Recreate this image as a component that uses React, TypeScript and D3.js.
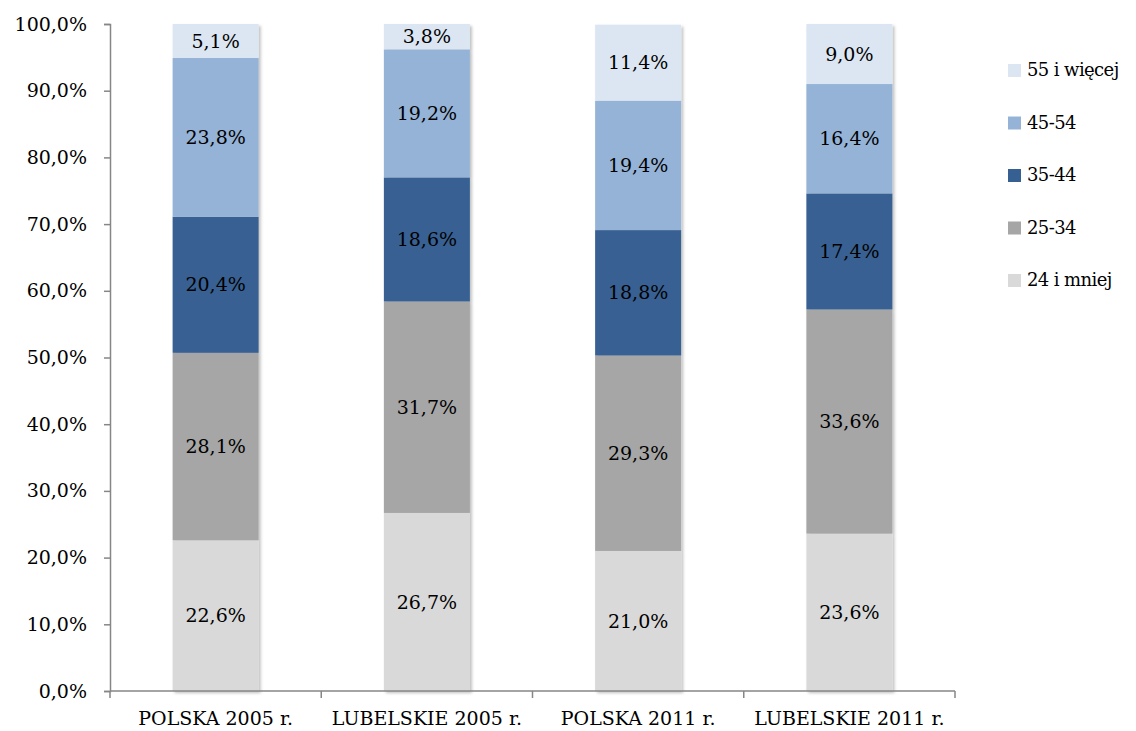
import React, { useEffect, useRef } from 'react';
import * as d3 from 'd3';

const categories = ['POLSKA 2005 r.', 'LUBELSKIE 2005 r.', 'POLSKA 2011 r.', 'LUBELSKIE 2011 r.'];
const seriesNames = ['24 i mniej', '25-34', '35-44', '45-54', '55 i więcej'];
const seriesColors = ['#d9d9d9', '#a6a6a6', '#376092', '#95b3d7', '#dce6f2'];
const age24 = [22.6, 26.7, 21.0, 23.6];
const age25 = [28.1, 31.7, 29.3, 33.6];
const age35 = [20.4, 18.6, 18.8, 17.4];
const age45 = [23.8, 19.2, 19.4, 16.4];
const age55 = [5.1, 3.8, 11.4, 9.0];
const yTicks = [0, 10, 20, 30, 40, 50, 60, 70, 80, 90, 100];

const FONT = '"DejaVu Serif", serif';

const App = () => {
  const ref = useRef<SVGSVGElement>(null);

  useEffect(() => {
    const svg = d3.select(ref.current);
    svg.selectAll('*').remove();

    const width = 1136;
    const height = 731;
    const left = 110, right = 955, top = 24, bottom = 691;

    svg.attr('width', width).attr('height', height);

    const defs = svg.append('defs');
    const f = defs.append('filter').attr('id', 'shadow')
      .attr('x', '-10%').attr('y', '-5%').attr('width', '130%').attr('height', '115%');
    f.append('feDropShadow').attr('dx', 2).attr('dy', 2).attr('stdDeviation', 1.5)
      .attr('flood-color', '#000').attr('flood-opacity', 0.25);

    const series = [age24, age25, age35, age45, age55];
    const table = categories.map((c, i) => {
      const row: any = { cat: c };
      seriesNames.forEach((s, j) => { row[s] = series[j][i]; });
      return row;
    });
    const stacked = d3.stack().keys(seriesNames)(table);

    const x = d3.scaleBand().domain(categories).range([left, right]).paddingInner(0).paddingOuter(0);
    const y = d3.scaleLinear().domain([0, 100]).range([bottom, top]);
    const barW = 86;

    const bars = svg.append('g').attr('filter', 'url(#shadow)');
    stacked.forEach((layer, j) => {
      bars.append('g').selectAll('rect')
        .data(layer)
        .enter()
        .append('rect')
        .attr('x', (d: any) => x(d.data.cat)! + x.bandwidth() / 2 - barW / 2)
        .attr('y', d => y(d[1]))
        .attr('width', barW)
        .attr('height', d => y(d[0]) - y(d[1]))
        .style('fill', seriesColors[j]);
    });

    const labels = svg.append('g');
    stacked.forEach((layer) => {
      labels.append('g').selectAll('text')
        .data(layer)
        .enter()
        .append('text')
        .attr('x', (d: any) => x(d.data.cat)! + x.bandwidth() / 2)
        .attr('y', d => (y(d[0]) + y(d[1])) / 2)
        .attr('dy', '0.35em')
        .attr('text-anchor', 'middle')
        .style('font-family', FONT)
        .style('font-size', '19px')
        .style('fill', '#000')
        .text(d => `${(d[1] - d[0]).toFixed(1).replace('.', ',')}%`);
    });

    // Y axis
    const yAxis = svg.append('g')
      .attr('transform', `translate(${left},0)`)
      .call(d3.axisLeft(y).tickValues(yTicks).tickSize(6).tickSizeOuter(6)
        .tickFormat(d => `${(+d).toFixed(1).replace('.', ',')}%`));
    yAxis.selectAll('path, line').attr('stroke', '#868686').attr('stroke-width', 1.5);
    yAxis.selectAll('text')
      .attr('x', -23)
      .style('font-family', FONT)
      .style('font-size', '19px')
      .style('fill', '#000');

    // X axis
    const xAxis = svg.append('g')
      .attr('transform', `translate(0,${bottom})`);
    xAxis.append('line')
      .attr('x1', left).attr('x2', right).attr('y1', 0).attr('y2', 0)
      .attr('stroke', '#868686').attr('stroke-width', 1.5);
    const bounds = [...categories.map(c => x(c)!), right];
    xAxis.selectAll('.tk')
      .data(bounds)
      .enter()
      .append('line')
      .attr('x1', d => d).attr('x2', d => d).attr('y1', 0).attr('y2', 7)
      .attr('stroke', '#868686').attr('stroke-width', 1.5);
    xAxis.selectAll('.lbl')
      .data(categories)
      .enter()
      .append('text')
      .attr('x', d => x(d)! + x.bandwidth() / 2)
      .attr('y', 34)
      .attr('text-anchor', 'middle')
      .style('font-family', FONT)
      .style('font-size', '19px')
      .style('fill', '#000')
      .text(d => d);

    // Legend
    const legendOrder = [...seriesNames.keys()].reverse();
    const legend = svg.append('g').attr('transform', 'translate(1008, 70)');
    const items = legend.selectAll('.item')
      .data(legendOrder)
      .enter()
      .append('g')
      .attr('transform', (d, i) => `translate(0, ${i * 52.5})`);
    items.append('rect')
      .attr('x', 0).attr('y', -6)
      .attr('width', 13).attr('height', 13)
      .style('fill', d => seriesColors[d]);
    items.append('text')
      .attr('x', 19)
      .attr('y', 0)
      .attr('dy', '0.35em')
      .style('font-family', FONT)
      .style('font-size', '18px')
      .style('letter-spacing', '-0.6px')
      .style('fill', '#000')
      .text(d => seriesNames[d]);
  }, []);

  return (
    <div style={{ margin: -8 }}>
      <svg ref={ref}></svg>
    </div>
  );
};

export default App;
